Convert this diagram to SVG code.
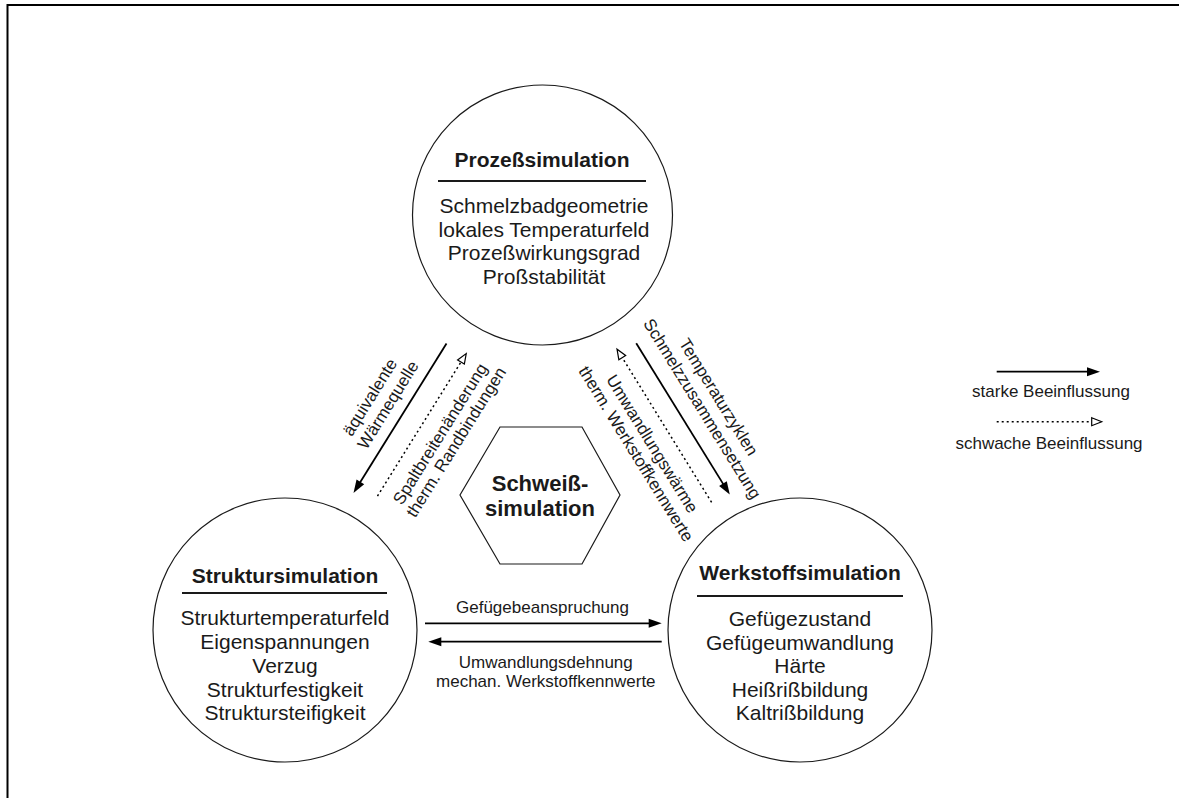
<svg xmlns="http://www.w3.org/2000/svg" width="1179" height="798" viewBox="0 0 1179 798">
<style>
text{font-family:"Liberation Sans",Arial,sans-serif;fill:#1a1a1a}
.title{font-size:21px;font-weight:bold;text-anchor:middle}
.body{font-size:21px;text-anchor:middle}
.lbl{font-size:17px;text-anchor:middle}
.hex{font-size:22px;font-weight:bold;text-anchor:middle}
.node{fill:#fff;stroke:#1a1a1a;stroke-width:1.2}
.rule{stroke:#1a1a1a;stroke-width:2}
.strong{stroke:#000;stroke-width:1.8;fill:none;marker-end:url(#solidHead)}
.weak{stroke:#000;stroke-width:1.5;stroke-dasharray:2 3;fill:none;marker-end:url(#openHead)}
</style>
<defs>
<marker id="solidHead" markerWidth="14" markerHeight="10" refX="3" refY="5" orient="auto" markerUnits="userSpaceOnUse" overflow="visible">
<path d="M0,0.5 L13,5 L0,9.5 z" fill="#000"/>
</marker>
<marker id="openHead" markerWidth="14" markerHeight="12" refX="1" refY="5" orient="auto" markerUnits="userSpaceOnUse" overflow="visible">
<path d="M1,1 L11,5 L1,9 z" fill="#fff" stroke="#000" stroke-width="1.2"/>
</marker>
</defs>
<rect width="1179" height="798" fill="#fff"/>
<g id="frame" stroke="#000" stroke-width="2" fill="none">
<path d="M7.5,798 V5 H1179"/>
</g>

<g id="prozess">
<circle class="node" cx="542.5" cy="215" r="130"/>
<text class="title" x="542" y="167">Prozeßsimulation</text>
<line class="rule" x1="438" y1="181" x2="646" y2="181"/>
<text class="body" x="544" y="213">Schmelzbadgeometrie</text>
<text class="body" x="544" y="236.5">lokales Temperaturfeld</text>
<text class="body" x="544" y="260">Prozeßwirkungsgrad</text>
<text class="body" x="544" y="283.5">Proßstabilität</text>
</g>

<g id="struktur">
<circle class="node" cx="285" cy="630" r="132"/>
<text class="title" x="285" y="583">Struktursimulation</text>
<line class="rule" x1="182" y1="593" x2="387" y2="593"/>
<text class="body" x="285" y="625">Strukturtemperaturfeld</text>
<text class="body" x="285" y="649">Eigenspannungen</text>
<text class="body" x="285" y="673">Verzug</text>
<text class="body" x="285" y="696.5">Strukturfestigkeit</text>
<text class="body" x="285" y="720">Struktursteifigkeit</text>
</g>

<g id="werkstoff">
<circle class="node" cx="800" cy="630" r="132"/>
<text class="title" x="800" y="580">Werkstoffsimulation</text>
<line class="rule" x1="697" y1="596" x2="903" y2="596"/>
<text class="body" x="800" y="626">Gefügezustand</text>
<text class="body" x="800" y="649.5">Gefügeumwandlung</text>
<text class="body" x="800" y="673">Härte</text>
<text class="body" x="800" y="696.5">Heißrißbildung</text>
<text class="body" x="800" y="720">Kaltrißbildung</text>
</g>

<g id="schweiss">
<polygon class="node" points="500,427 582,427 620,495 582,564 500,564 460,495"/>
<text class="hex" x="540" y="491">Schweiß-</text>
<text class="hex" x="540" y="516">simulation</text>
</g>

<g id="connectors">
<g transform="translate(400,418.3) rotate(-58.1)">
<line class="strong" x1="88" y1="0" x2="-78" y2="0"/>
<line class="weak" x1="-78" y1="22" x2="80" y2="22"/>
</g>
<g transform="translate(683,418.9) rotate(58.3)">
<line class="strong" x1="-89" y1="0" x2="79" y2="0"/>
<line class="weak" x1="86" y1="19.5" x2="-84" y2="19.5"/>
</g>
<line class="strong" x1="425" y1="623.3" x2="651.7" y2="623.3"/>
<line class="strong" x1="661.7" y1="641.7" x2="438.3" y2="641.7"/>
</g>

<g id="labels">
<g transform="translate(400,418.3) rotate(-58.1)">
<text class="lbl" x="2" y="-31">äquivalente</text>
<text class="lbl" x="5" y="-11.5">Wärmequelle</text>
<text class="lbl" x="8" y="48">Spaltbreitenänderung</text>
<text class="lbl" x="9.5" y="66">therm. Randbindungen</text>
</g>
<g transform="translate(683,418.9) rotate(58.3)">
<text class="lbl" x="0" y="-36">Temperaturzyklen</text>
<text class="lbl" x="1.5" y="-16">Schmelzzusammensetzung</text>
<text class="lbl" x="5" y="45">Umwandlungswärme</text>
<text class="lbl" x="5" y="64">therm. Werkstoffkennwerte</text>
</g>
<text class="lbl" x="542.5" y="613.3">Gefügebeanspruchung</text>
<text class="lbl" x="545.8" y="668.3">Umwandlungsdehnung</text>
<text class="lbl" x="545.8" y="686.7">mechan. Werkstoffkennwerte</text>
</g>

<g id="legend">
<line class="strong" x1="996.7" y1="371.7" x2="1090" y2="371.7"/>
<text class="lbl" x="1051" y="396.7">starke Beeinflussung</text>
<line class="weak" x1="996.7" y1="421.7" x2="1091.7" y2="421.7"/>
<text class="lbl" x="1049" y="449.3">schwache Beeinflussung</text>
</g>
</svg>
